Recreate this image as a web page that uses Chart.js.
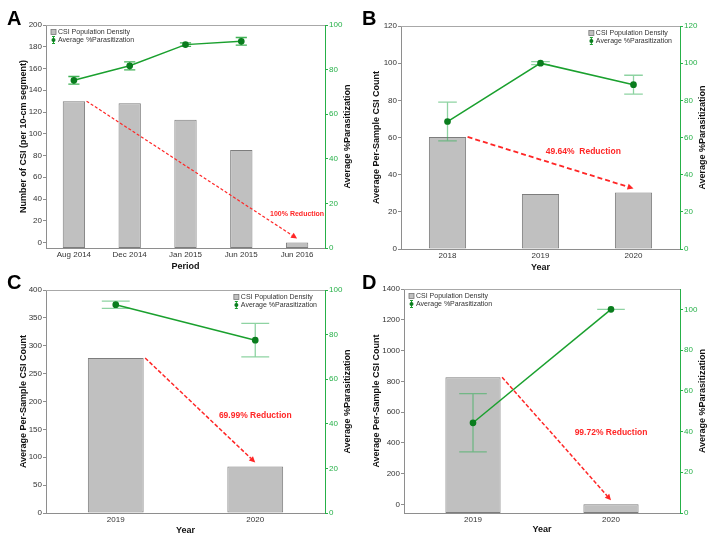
<!DOCTYPE html>
<html>
<head>
<meta charset="utf-8">
<script src="https://cdn.jsdelivr.net/npm/chart.js@4.4.1/dist/chart.umd.min.js"></script>
<style>
  body { margin: 0; background: #fff; width: 714px; height: 541px; position: relative; overflow: hidden; }
  .panel { position: absolute; }
</style>
</head>
<body>
<div class="panel" style="left:0;top:0;width:357px;height:275px"><canvas id="chartA"></canvas></div>
<div class="panel" style="left:357px;top:0;width:357px;height:275px"><canvas id="chartB"></canvas></div>
<div class="panel" style="left:0;top:270px;width:357px;height:271px"><canvas id="chartC"></canvas></div>
<div class="panel" style="left:357px;top:270px;width:357px;height:271px"><canvas id="chartD"></canvas></div>
<script>
// ---- data ----
const periodsA = ['Aug 2014', 'Dec 2014', 'Jan 2015', 'Jun 2015', 'Jun 2016'];
const densityA = [130, 128, 113, 85, 0];
const parasitA = [75.2, 81.7, 91.2, 92.7, null];
const parasitErrA = [1.7, 1.8, 0.8, 1.7, null];

const yearsB = ['2018', '2019', '2020'];
const densityB = [60.3, 29.6, 30.4];
const parasitB = [68.6, 100, 88.4];
const parasitErrB = [10.4, 0.8, 5.1];

const yearsC = ['2019', '2020'];
const densityC = [278, 83.4];
const parasitC = [93.4, 77.5];
const parasitErrC = [1.6, 7.5];

const yearsD = ['2019', '2020'];
const densityD = [827, 2.3];
const parasitD = [44.3, 100];
const parasitErrD = [14.3, 0];

const reductionText = ['100% Reduction', '49.64%  Reduction', '69.99% Reduction', '99.72% Reduction'];
const rightTitle = 'Average %Parasitization';

const FONT = "'Liberation Sans', Arial, sans-serif";
const GREEN = 'rgb(26,160,46)';
const GREEN_TICK = 'rgb(38,176,72)';
const RED = '#ff2626';
const AXIS_GRAY = '#8e8e8e';

function drawErrorBars(chart, o) {
  const ctx = chart.ctx;
  const xs = chart.scales.x, ys = chart.scales.y2;
  const catW = xs.width / chart.data.labels.length;
  const vals = chart.data.datasets[0].data;
  ctx.save();
  ctx.strokeStyle = o.errColor;
  ctx.lineWidth = 1.3;
  o.err.forEach((e, i) => {
    if (e === null || vals[i] === null) return;
    const x = xs.getPixelForValue(i);
    const yt = ys.getPixelForValue(vals[i] + e);
    const yb = ys.getPixelForValue(vals[i] - e);
    const hw = catW * 0.1;
    ctx.beginPath();
    ctx.moveTo(x, yt); ctx.lineTo(x, yb);
    ctx.moveTo(x - hw, yt); ctx.lineTo(x + hw, yt);
    ctx.moveTo(x - hw, yb); ctx.lineTo(x + hw, yb);
    ctx.stroke();
  });
  ctx.restore();
}

function drawArrow(chart, o) {
  const ctx = chart.ctx;
  const bars = chart.getDatasetMeta(1).data;
  const first = bars[0], last = bars[bars.length - 1];
  const x0 = first.x + first.width / 2 + 1.5, y0 = first.y;
  const x1 = last.x, y1 = last.y - 4;
  const ang = Math.atan2(y1 - y0, x1 - x0);
  const head = 6;
  ctx.save();
  ctx.strokeStyle = RED;
  ctx.fillStyle = RED;
  ctx.lineWidth = o.arrowWidth;
  ctx.setLineDash(o.dash);
  ctx.beginPath();
  ctx.moveTo(x0, y0);
  ctx.lineTo(x1 - Math.cos(ang) * head, y1 - Math.sin(ang) * head);
  ctx.stroke();
  ctx.setLineDash([]);
  ctx.beginPath();
  ctx.moveTo(x1, y1);
  ctx.lineTo(x1 - Math.cos(ang) * head - Math.sin(ang) * 3, y1 - Math.sin(ang) * head + Math.cos(ang) * 3);
  ctx.lineTo(x1 - Math.cos(ang) * head + Math.sin(ang) * 3, y1 - Math.sin(ang) * head - Math.cos(ang) * 3);
  ctx.closePath();
  ctx.fill();
  // reduction label
  const lx = chart.scales.x.getPixelForValue(o.labelAt[0]);
  const ly = chart.scales.y.getPixelForValue(o.labelAt[1]);
  ctx.font = 'bold ' + o.labelSize + 'px ' + FONT;
  ctx.textAlign = 'center';
  ctx.textBaseline = 'middle';
  ctx.fillText(o.text, lx, ly);
  ctx.restore();
}

function drawLegend(chart, o) {
  const ctx = chart.ctx;
  const a = chart.chartArea;
  const names = [chart.data.datasets[1].label, chart.data.datasets[0].label];
  ctx.save();
  ctx.font = '7px ' + FONT;
  const w = Math.max(...names.map(n => ctx.measureText(n).width));
  const sx = o.legendSide === 'left' ? a.left + 5 : a.right - 8 - w - 7;
  const r1 = a.top + 7, r2 = a.top + 15;
  ctx.fillStyle = '#c0c0c0';
  ctx.strokeStyle = '#777';
  ctx.lineWidth = 0.8;
  ctx.fillRect(sx, r1 - 2.5, 5, 5);
  ctx.strokeRect(sx, r1 - 2.5, 5, 5);
  ctx.strokeStyle = GREEN;
  ctx.lineWidth = 1;
  ctx.beginPath();
  ctx.moveTo(sx + 2.5, r2 - 3.5); ctx.lineTo(sx + 2.5, r2 + 3.5);
  ctx.moveTo(sx + 1, r2 - 3.5); ctx.lineTo(sx + 4, r2 - 3.5);
  ctx.moveTo(sx + 1, r2 + 3.5); ctx.lineTo(sx + 4, r2 + 3.5);
  ctx.stroke();
  ctx.fillStyle = '#0a7d1e';
  ctx.beginPath();
  ctx.arc(sx + 2.5, r2, 2, 0, Math.PI * 2);
  ctx.fill();
  ctx.fillStyle = '#333';
  ctx.textAlign = 'left';
  ctx.textBaseline = 'middle';
  ctx.fillText(names[0], sx + 7, r1);
  ctx.fillText(names[1], sx + 7, r2);
  ctx.restore();
}

const extras = {
  id: 'panelExtras',
  beforeDatasetDraw(chart, args, o) {
    if (args.meta.type === 'line') drawErrorBars(chart, o);
  },
  afterDatasetsDraw(chart, args, o) {
    drawArrow(chart, o);
  },
  afterDraw(chart, args, o) {
    const ctx = chart.ctx, a = chart.chartArea;
    ctx.save();
    ctx.strokeStyle = '#a8a8a8';
    ctx.lineWidth = 1;
    ctx.beginPath();
    ctx.moveTo(a.left, a.top + 0.5);
    ctx.lineTo(a.right, a.top + 0.5);
    ctx.stroke();
    // panel letter
    ctx.fillStyle = '#000';
    ctx.font = 'bold 20px ' + FONT;
    ctx.textAlign = 'left';
    ctx.textBaseline = 'alphabetic';
    ctx.fillText(o.letter, o.letterPos[0], o.letterPos[1]);
    // right axis title, reading bottom to top
    ctx.font = 'bold 9px ' + FONT;
    ctx.fillStyle = '#111';
    ctx.textAlign = 'center';
    ctx.textBaseline = 'middle';
    ctx.translate(a.right + 23, (a.top + a.bottom) / 2);
    ctx.rotate(-Math.PI / 2);
    ctx.fillText(rightTitle, 0, 0);
    ctx.restore();
    drawLegend(chart, o);
  }
};

function buildPanel(id, p) {
  const titleFont = { family: FONT, size: 9, weight: 'bold' };
  const tickFont = { family: FONT, size: 8 };
  return new Chart(document.getElementById(id), {
    data: {
      labels: p.labels,
      datasets: [
        {
          type: 'line', label: 'Average %Parasitization', data: p.parasit, yAxisID: 'y2', order: 0,
          borderColor: GREEN, borderWidth: 1.5, tension: 0, spanGaps: false,
          pointRadius: 2.6, pointBackgroundColor: '#0a7d1e', pointBorderColor: '#0a7d1e'
        },
        {
          type: 'bar', label: 'CSI Population Density', data: p.density, yAxisID: 'y', order: 1,
          backgroundColor: '#c0c0c0', borderColor: '#7d7d7d', borderWidth: 1, borderSkipped: false,
          barPercentage: 0.4, categoryPercentage: 1, base: p.left.min
        }
      ]
    },
    options: {
      responsive: true,
      maintainAspectRatio: false,
      animation: false,
      layout: { padding: { top: p.padTop, left: 0, right: 0, bottom: 0 } },
      plugins: {
        legend: { display: false },
        tooltip: { enabled: false },
        panelExtras: {
          err: p.err, errColor: p.errColor, letter: p.letter, letterPos: p.letterPos,
          legendSide: p.legendSide, text: p.text, labelAt: p.labelAt, labelSize: p.labelSize,
          arrowWidth: p.arrowWidth, dash: p.dash
        }
      },
      scales: {
        x: {
          offset: true,
          grid: { display: false, drawTicks: false },
          border: { color: AXIS_GRAY },
          ticks: { color: '#333', font: tickFont, padding: p.xTickPad, maxRotation: 0, autoSkip: false },
          title: { display: true, text: p.xTitle, color: '#111', font: titleFont, padding: { top: 0, bottom: p.xTitlePad } },
          afterFit: s => { s.height = p.xHeight; }
        },
        y: {
          position: 'left',
          min: p.left.min, max: p.left.max,
          grid: { drawOnChartArea: false, drawTicks: true, tickLength: 3, color: AXIS_GRAY },
          border: { color: AXIS_GRAY },
          ticks: { stepSize: p.left.step, color: '#333', font: tickFont, padding: 1, callback: v => String(v) },
          title: { display: true, text: p.left.title, color: '#111', font: titleFont, padding: { top: p.left.titlePad, bottom: 0 } },
          afterBuildTicks: s => {
            const kept = s.ticks.filter(t => t.value >= 0);
            if (!kept.length || kept[0].value !== 0) kept.unshift({ value: 0 });
            s.ticks = kept;
          },
          afterFit: s => { s.width = p.left.width; }
        },
        y2: {
          position: 'right',
          min: p.right.min, max: p.right.max,
          grid: { drawOnChartArea: false, drawTicks: true, tickLength: 3, color: GREEN_TICK },
          border: { color: GREEN_TICK },
          ticks: { stepSize: p.right.step, color: GREEN_TICK, font: tickFont, padding: 1, callback: v => String(v) },
          title: { display: false },
          afterBuildTicks: s => { s.ticks = s.ticks.filter(t => t.value <= p.right.lastTick); },
          afterFit: s => { s.width = p.right.width; }
        }
      }
    },
    plugins: [extras]
  });
}

buildPanel('chartA', {
  labels: periodsA, density: densityA, parasit: parasitA, err: parasitErrA,
  errColor: 'rgba(30,165,55,0.85)', letter: 'A', letterPos: [7, 25], legendSide: 'left',
  text: reductionText[0], labelAt: [4, 26], labelSize: 7, arrowWidth: 1.2, dash: [3, 2],
  padTop: 25, xTitle: 'Period', xHeight: 27, xTickPad: 2, xTitlePad: 3,
  left: { min: -5, max: 200, step: 20, title: 'Number of CSI (per 10-cm segment)', width: 46, titlePad: 18 },
  right: { min: 0, max: 100, step: 20, lastTick: 100, width: 32 }
});

buildPanel('chartB', {
  labels: yearsB, density: densityB, parasit: parasitB, err: parasitErrB,
  errColor: 'rgba(50,175,85,0.55)', letter: 'B', letterPos: [5, 25], legendSide: 'right',
  text: reductionText[1], labelAt: [1.46, 52.3], labelSize: 8.5, arrowWidth: 1.8, dash: [5, 3],
  padTop: 26, xTitle: 'Year', xHeight: 26, xTickPad: 2, xTitlePad: 2.3,
  left: { min: 0, max: 120, step: 20, title: 'Average Per-Sample CSI Count', width: 44, titlePad: 14.3 },
  right: { min: 0, max: 120, step: 20, lastTick: 120, width: 34 }
});

buildPanel('chartC', {
  labels: yearsC, density: densityC, parasit: parasitC, err: parasitErrC,
  errColor: 'rgba(50,175,85,0.55)', letter: 'C', letterPos: [7, 18.5], legendSide: 'right',
  text: reductionText[2], labelAt: [1, 175.5], labelSize: 8.5, arrowWidth: 1.5, dash: [4, 2],
  padTop: 20, xTitle: 'Year', xHeight: 28, xTickPad: 1.5, xTitlePad: 4.6,
  left: { min: 0, max: 400, step: 50, title: 'Average Per-Sample CSI Count', width: 46, titlePad: 17.9 },
  right: { min: 0, max: 100, step: 20, lastTick: 100, width: 32 }
});

buildPanel('chartD', {
  labels: yearsD, density: densityD, parasit: parasitD, err: parasitErrD,
  errColor: 'rgba(50,175,85,0.55)', letter: 'D', letterPos: [5, 19], legendSide: 'left',
  text: reductionText[3], labelAt: [1, 469], labelSize: 8.5, arrowWidth: 1.5, dash: [4, 2],
  padTop: 19, xTitle: 'Year', xHeight: 28, xTickPad: 1.5, xTitlePad: 5.6,
  left: { min: -55, max: 1400, step: 200, title: 'Average Per-Sample CSI Count', width: 47, titlePad: 14.3 },
  right: { min: 0, max: 110, step: 20, lastTick: 100, width: 34 }
});
</script>
</body>
</html>
